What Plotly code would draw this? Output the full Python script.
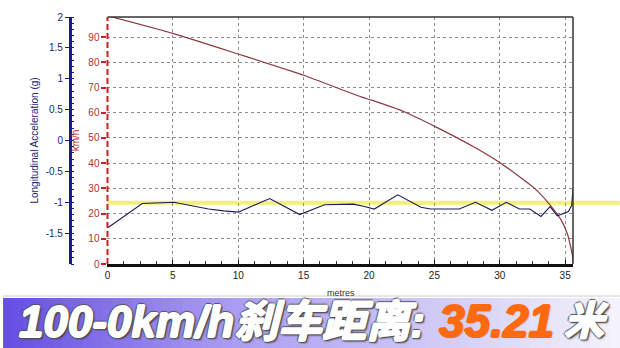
import plotly.graph_objects as go

# ---- data ----
speed_dist = [0, 5, 10, 15, 19.4, 20.2, 22.7, 25.1, 28.0, 30.1, 32.6, 33.85, 34.7, 35.2, 35.55, 35.6]
speed_kmh = [98.5, 91.5, 83.3, 74.9, 66.3, 65.0, 60.4, 54.4, 46.5, 39.9, 30.3, 23.4, 17.4, 11.5, 3.6, 0.5]

acc_dist = [0.05, 2.66, 5.07, 7.73, 8.87, 10.0, 12.4, 14.7, 16.6, 18.8, 19.65, 20.4, 22.2, 23.97,
            24.7, 26.9, 28.15, 29.4, 30.5, 31.5, 32.3, 33.15, 33.85, 34.4, 35.25, 35.5, 35.6]
acc_g = [-1.41, -1.02, -1.00, -1.11, -1.14, -1.16, -0.94, -1.20, -1.04, -1.03, -1.07, -1.11, -0.88, -1.08,
         -1.11, -1.11, -1.00, -1.13, -1.00, -1.11, -1.11, -1.23, -1.07, -1.22, -1.15, -1.05, -0.78]

mean_decel_g = -1.01

x_ticks = [0, 5, 10, 15, 20, 25, 30, 35]
kmh_ticks = [0, 10, 20, 30, 40, 50, 60, 70, 80, 90]
acc_ticks = [2, 1.5, 1, 0.5, 0, -0.5, -1, -1.5]
acc_tick_text = ["2", "1.5", "1", "0.5", "0", "-0.5", "-1", "-1.5"]

banner_main = "100-0km/h刹车距离:"
banner_value = "35.21"
banner_unit = "米"

# ---- layout geometry ----
W, H = 620, 348
ML, MR, MT, MB = 10, 47, 17, 84
PW = W - ML - MR
PH = H - MT - MB
def px_x(p):
    return (p - ML) / PW
def px_y(p):
    return (H - MB - p) / PH

FONT = "Liberation Sans, Arial, sans-serif"
BANNER_FONT = "Liberation Sans, Noto Sans CJK SC, sans-serif"
NAVY = "#23236e"
RED = "#b03030"
GRID = "#8c8c8c"

fig = go.Figure()

fig.add_trace(go.Scatter(x=speed_dist, y=speed_kmh, mode="lines",
                         line=dict(color="#8b3a3e", width=1.2, shape="spline", smoothing=0.5),
                         yaxis="y", showlegend=False, hoverinfo="skip"))
fig.add_trace(go.Scatter(x=acc_dist, y=acc_g, mode="lines",
                         line=dict(color="#1c1c5c", width=1.1),
                         yaxis="y2", showlegend=False, hoverinfo="skip"))

shapes = []
shapes.append(dict(type="line", xref="paper", yref="y2", x0=px_x(105), x1=px_x(620),
                   y0=mean_decel_g, y1=mean_decel_g,
                   line=dict(color="rgba(240,240,100,0.9)", width=4), layer="between"))
shapes.append(dict(type="line", xref="paper", yref="paper", x0=px_x(105), x1=1, y0=1, y1=1,
                   line=dict(color="#333333", width=1.5)))
shapes.append(dict(type="line", xref="paper", yref="paper", x0=1, x1=1, y0=0, y1=1,
                   line=dict(color="#333333", width=1.5)))
shapes.append(dict(type="line", xref="paper", yref="paper", x0=px_x(105), x1=px_x(105), y0=0, y1=1,
                   line=dict(color="#cc2020", width=2, dash="6px,3px")))
shapes.append(dict(type="line", xref="paper", yref="paper", x0=px_x(0), x1=px_x(620),
                   y0=px_y(296), y1=px_y(296), line=dict(color="#dcdcdc", width=1.5)))

c0 = (104, 80, 226)
c1 = (168, 154, 242)
c2 = (244, 243, 251)
n = 62
for i in range(n):
    t = i / (n - 1)
    if t < 0.35:
        u = t / 0.35
        c = tuple(int(c0[k] + (c1[k] - c0[k]) * u) for k in range(3))
    else:
        u = (t - 0.35) / 0.65
        c = tuple(int(c1[k] + (c2[k] - c1[k]) * u) for k in range(3))
    x0p = i * W / n
    x1p = (i + 1) * W / n + 0.8
    shapes.append(dict(type="rect", xref="paper", yref="paper",
                       x0=px_x(x0p), x1=px_x(x1p), y0=px_y(298), y1=px_y(349),
                       line=dict(width=0), fillcolor="rgb(%d,%d,%d)" % c, layer="above"))

white_shadow = ("1px 0 0 #fff, -1px 0 0 #fff, 0 1px 0 #fff, 0 -1px 0 #fff, "
                "2px 0 1px #555, -2px 0 1px #555, 0 2px 1px #555, 0 -2px 1px #555, 2px 2px 2px #444")
orange_shadow = ("1px 0 0 #ff6a10, -1px 0 0 #ff6a10, 0 1px 0 #ff6a10, 0 -1px 0 #ff6a10, "
                 "1px 1px 1px rgba(120,60,20,0.5)")

annotations = [
    dict(xref="paper", yref="paper", x=px_x(340), y=px_y(293), text="metres", showarrow=False,
         font=dict(family=FONT, size=9, color="#333333"), xanchor="center", yanchor="middle"),
    dict(xref="paper", yref="paper", x=px_x(14), y=px_y(321),
         text="<b><i>%s</i></b>" % banner_main,
         showarrow=False, xanchor="left", yanchor="middle",
         font=dict(family=BANNER_FONT, size=44, color="white", shadow=white_shadow)),
    dict(xref="paper", yref="paper", x=px_x(436), y=px_y(321),
         text="<b><i>%s</i></b>" % banner_value,
         showarrow=False, xanchor="left", yanchor="middle",
         font=dict(family=BANNER_FONT, size=46, color="#ff6a10", shadow=orange_shadow)),
    dict(xref="paper", yref="paper", x=px_x(562), y=px_y(321),
         text="<b><i>%s</i></b>" % banner_unit,
         showarrow=False, xanchor="left", yanchor="middle",
         font=dict(family=BANNER_FONT, size=40, color="white", shadow=white_shadow)),
]

fig.update_layout(
    width=W, height=H,
    margin=dict(l=ML, r=MR, t=MT, b=MB),
    paper_bgcolor="white", plot_bgcolor="white",
    font=dict(family=FONT, size=10),
    showlegend=False,
    xaxis=dict(domain=[px_x(105), 1], range=[0, 35.6], tickvals=x_ticks,
               showgrid=True, gridcolor=GRID, griddash="3px,3px", gridwidth=1,
               showline=True, linecolor="#111111", linewidth=2.5,
               ticks="inside", ticklen=4, tickcolor="#111111",
               minor=dict(dtick=1.25, ticks="inside", ticklen=3, tickcolor="#333333", showgrid=False),
               tickfont=dict(size=10, color="#222222"), zeroline=False, fixedrange=True),
    yaxis=dict(range=[0, 98], tickvals=kmh_ticks, anchor="x",
               showgrid=True, gridcolor=GRID, griddash="3px,3px", gridwidth=1,
               showline=False, ticks="outside", ticklen=5, tickcolor="#cc2020", tickwidth=1.5,
               tickfont=dict(size=10, color=RED), zeroline=False,
               title=dict(text="km/h", font=dict(size=10, color=RED), standoff=6)),
    yaxis2=dict(range=[-2, 2], overlaying="y", anchor="free", position=px_x(67), side="left",
                tickvals=acc_ticks, ticktext=acc_tick_text,
                showgrid=False, zeroline=False, showline=True, linecolor="#1a1a90", linewidth=2.5,
                ticks="outside", ticklen=4, tickcolor="#1a1a90",
                minor=dict(dtick=0.1, ticks="inside", ticklen=3, tickcolor="#1a1a90"),
                tickfont=dict(size=10, color=NAVY),
                title=dict(text="Longitudinal Acceleration (g)", font=dict(size=10, color=NAVY), standoff=4)),
    shapes=shapes,
    annotations=annotations,
)

fig.write_html("out.html")
